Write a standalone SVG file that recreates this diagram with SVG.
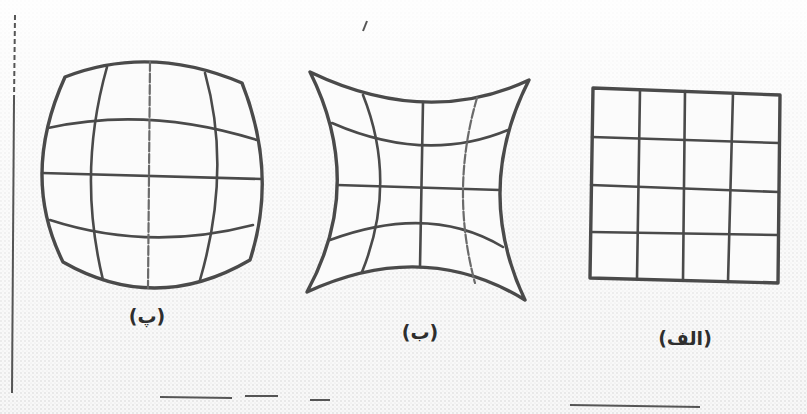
<svg xmlns="http://www.w3.org/2000/svg" width="807" height="414" viewBox="0 0 807 414">
  <defs>
    <pattern id="dots" width="4" height="4" patternUnits="userSpaceOnUse">
      <circle cx="1" cy="1" r="0.8" fill="#9a9a9a"/>
      <circle cx="3" cy="3" r="0.6" fill="#b5b5b5"/>
    </pattern>
    <linearGradient id="fade" x1="0" y1="0" x2="0" y2="1">
      <stop offset="0" stop-color="#fff" stop-opacity="0.9"/>
      <stop offset="0.55" stop-color="#fff" stop-opacity="0.5"/>
      <stop offset="1" stop-color="#fff" stop-opacity="0.2"/>
    </linearGradient>
    <style>
      .ln { fill: none; stroke: #4a4a4a; stroke-width: 3; stroke-linecap: round; stroke-linejoin: round; }
      .out { stroke-width: 3.4; }
      .thin { stroke-width: 2.6; }
      .faint { stroke: #6a6a6a; stroke-width: 2.2; stroke-dasharray: 9 2.5; }
      .shape { fill: #fbfbfb; }
      .lbl { font-family: "DejaVu Sans", sans-serif; font-weight: bold; font-size: 19px; fill: #2e2e2e; text-anchor: middle; }
      .scan { fill: none; stroke: #555; stroke-width: 2; }
    </style>
  </defs>

  <rect width="807" height="414" fill="#f6f6f6"/>
  <rect width="807" height="414" fill="url(#dots)" opacity="0.5"/>
  <rect width="807" height="414" fill="url(#fade)"/>

  <!-- scan artefacts -->
  <g id="artefacts">
    <path class="scan" d="M15,15 L14,100" stroke-dasharray="5 3"/>
    <path class="scan" d="M14,100 L12,393"/>
    <path class="scan" d="M160,397 L232,398" stroke="#888" stroke-width="1.2"/>
    <path class="scan" d="M245,396 L278,396" stroke="#aaa" stroke-width="0.8"/>
    <path class="scan" d="M310,400 L330,400" stroke="#aaa" stroke-width="0.8"/>
    <path class="scan" d="M570,405 L700,407" stroke="#999" stroke-width="1.2"/>
    <path class="scan" d="M367,21 L363,31" stroke="#555" stroke-width="1.5"/>
  </g>

  <!-- (پ) barrel distortion -->
  <g id="barrel">
    <path class="ln out shape" d="M65,77 Q150,44 242,83 Q278,174 250,260 Q156,315 63,262 Q20,176 65,77 Z"/>
    <path class="ln thin" d="M48,128 Q148,106 257,140"/>
    <path class="ln thin" d="M42,173 L262,179"/>
    <path class="ln thin" d="M50,220 Q149,252 253,225"/>
    <path class="ln thin" d="M107,67 Q77,173 103,280"/>
    <path class="ln faint" d="M150,62 L148,288"/>
    <path class="ln thin" d="M205,73 Q232,170 200,280"/>
    <text class="lbl" x="147" y="323">(پ)</text>
  </g>

  <!-- (ب) pincushion distortion -->
  <g id="pincushion">
    <path class="ln out shape" d="M310,72 Q427,128 529,80 Q473,190 525,300 Q424,238 307,292 Q366,184 310,72 Z"/>
    <path class="ln thin" d="M332,123 Q426,164 508,130"/>
    <path class="ln thin" d="M337,185 L500,190"/>
    <path class="ln thin" d="M330,240 Q430,203 503,247"/>
    <path class="ln thin" d="M363,95 Q398,183 362,272"/>
    <path class="ln thin" d="M423,102 L420,267"/>
    <path class="ln faint" d="M477,98 Q450,190 475,283"/>
    <text class="lbl" x="420" y="339">(ب)</text>
  </g>

  <!-- (الف) undistorted grid -->
  <g id="grid">
    <path class="ln out shape" d="M593,88 L780,95 L778,283 L590,278 Z"/>
    <path class="ln thin" d="M640,90 L637,279"/>
    <path class="ln thin" d="M685,91 L683,280"/>
    <path class="ln thin" d="M733,93 L728,282"/>
    <path class="ln thin" d="M592,137 L779,143"/>
    <path class="ln thin" d="M591,185 L779,192"/>
    <path class="ln thin" d="M591,232 L778,235"/>
    <text class="lbl" x="685" y="345">(الف)</text>
  </g>
</svg>
